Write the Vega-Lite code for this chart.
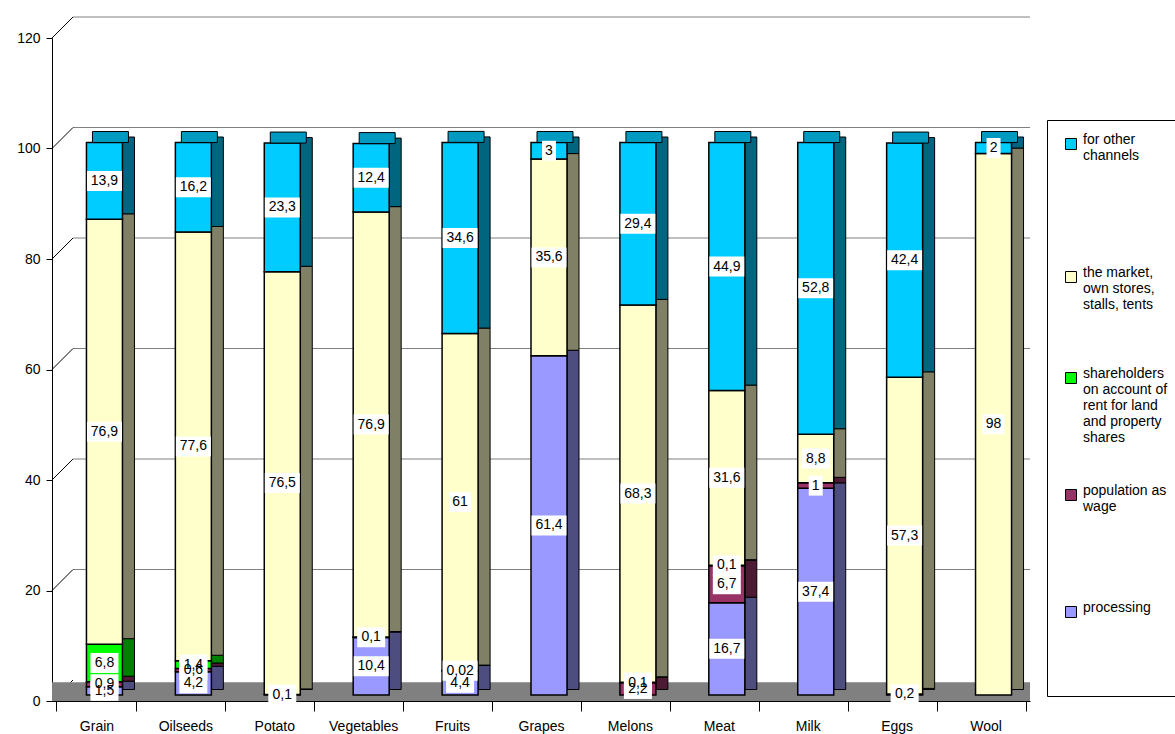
{
  "$schema": "https://vega.github.io/schema/vega-lite/v6.json",
  "width": 978,
  "height": 663,
  "autosize": "none",
  "padding": {"left": 52, "top": 38, "right": 145, "bottom": 33},
  "background": "white",
  "config": {
    "locale": {"number": {"decimal": ",", "thousands": " ", "grouping": [3], "currency": ["", ""]}},
    "font": "Liberation Sans",
    "view": {"stroke": null},
    "axis": {"labelFont": "Liberation Sans", "labelFontSize": 14, "labelColor": "black", "domainColor": "black", "tickColor": "black", "title": null}
  },
  "resolve": {"scale": {"color": "independent"}, "legend": {"color": "independent"}},
  "data": {"values": [
    {"c": "Grain", "s": "processing", "k": 1, "v": 1.5},
    {"c": "Grain", "s": "population as wage", "k": 2, "v": 0.9},
    {"c": "Grain", "s": "shareholders on account of rent for land and property shares", "k": 3, "v": 6.8},
    {"c": "Grain", "s": "the market, own stores, stalls, tents", "k": 4, "v": 76.9},
    {"c": "Grain", "s": "for other channels", "k": 5, "v": 13.9},
    {"c": "Oilseeds", "s": "processing", "k": 1, "v": 4.2},
    {"c": "Oilseeds", "s": "population as wage", "k": 2, "v": 0.6},
    {"c": "Oilseeds", "s": "shareholders on account of rent for land and property shares", "k": 3, "v": 1.4},
    {"c": "Oilseeds", "s": "the market, own stores, stalls, tents", "k": 4, "v": 77.6},
    {"c": "Oilseeds", "s": "for other channels", "k": 5, "v": 16.2},
    {"c": "Potato", "s": "processing", "k": 1, "v": 0.1},
    {"c": "Potato", "s": "the market, own stores, stalls, tents", "k": 4, "v": 76.5},
    {"c": "Potato", "s": "for other channels", "k": 5, "v": 23.3},
    {"c": "Vegetables", "s": "processing", "k": 1, "v": 10.4},
    {"c": "Vegetables", "s": "population as wage", "k": 2, "v": 0.1},
    {"c": "Vegetables", "s": "the market, own stores, stalls, tents", "k": 4, "v": 76.9},
    {"c": "Vegetables", "s": "for other channels", "k": 5, "v": 12.4},
    {"c": "Fruits", "s": "processing", "k": 1, "v": 4.4},
    {"c": "Fruits", "s": "population as wage", "k": 2, "v": 0.02},
    {"c": "Fruits", "s": "the market, own stores, stalls, tents", "k": 4, "v": 61},
    {"c": "Fruits", "s": "for other channels", "k": 5, "v": 34.6},
    {"c": "Grapes", "s": "processing", "k": 1, "v": 61.4},
    {"c": "Grapes", "s": "the market, own stores, stalls, tents", "k": 4, "v": 35.6},
    {"c": "Grapes", "s": "for other channels", "k": 5, "v": 3},
    {"c": "Melons", "s": "population as wage", "k": 2, "v": 2.2},
    {"c": "Melons", "s": "shareholders on account of rent for land and property shares", "k": 3, "v": 0.1},
    {"c": "Melons", "s": "the market, own stores, stalls, tents", "k": 4, "v": 68.3},
    {"c": "Melons", "s": "for other channels", "k": 5, "v": 29.4},
    {"c": "Meat", "s": "processing", "k": 1, "v": 16.7},
    {"c": "Meat", "s": "population as wage", "k": 2, "v": 6.7},
    {"c": "Meat", "s": "shareholders on account of rent for land and property shares", "k": 3, "v": 0.1},
    {"c": "Meat", "s": "the market, own stores, stalls, tents", "k": 4, "v": 31.6},
    {"c": "Meat", "s": "for other channels", "k": 5, "v": 44.9},
    {"c": "Milk", "s": "processing", "k": 1, "v": 37.4},
    {"c": "Milk", "s": "population as wage", "k": 2, "v": 1},
    {"c": "Milk", "s": "the market, own stores, stalls, tents", "k": 4, "v": 8.8},
    {"c": "Milk", "s": "for other channels", "k": 5, "v": 52.8},
    {"c": "Eggs", "s": "processing", "k": 1, "v": 0.2},
    {"c": "Eggs", "s": "the market, own stores, stalls, tents", "k": 4, "v": 57.3},
    {"c": "Eggs", "s": "for other channels", "k": 5, "v": 42.4},
    {"c": "Wool", "s": "the market, own stores, stalls, tents", "k": 4, "v": 98},
    {"c": "Wool", "s": "for other channels", "k": 5, "v": 2}
  ]},
  "transform": [
    {"stack": "v", "groupby": ["c"], "sort": [{"field": "k", "order": "ascending"}], "as": ["y0", "y1"]}
  ],
  "encoding": {
    "x": {"field": "c", "type": "nominal", "sort": ["Grain", "Oilseeds", "Potato", "Vegetables", "Fruits", "Grapes", "Melons", "Meat", "Milk", "Eggs", "Wool"],
      "axis": {"labelAngle": 0, "tickBand": "extent", "tickSize": 10, "labelPadding": 8, "labelBaseline": "top"}}
  },
  "layer": [
    {
      "data": {"values": [{"g": 20}, {"g": 40}, {"g": 60}, {"g": 80}, {"g": 100}, {"g": 120}]},
      "mark": {"type": "rule", "color": "#808080", "strokeWidth": 1, "xOffset": 21, "yOffset": -21, "y2Offset": -21},
      "encoding": {
        "x": {"value": 0},
        "x2": {"value": "width"},
        "y": {"field": "g", "type": "quantitative"},
        "y2": {"field": "g"}
      }
    },
    {
      "data": {"values": [{"g": 0}, {"g": 20}, {"g": 40}, {"g": 60}, {"g": 80}, {"g": 100}, {"g": 120}]},
      "mark": {"type": "rule", "color": "black", "strokeWidth": 1, "x2Offset": 21, "y2Offset": -21},
      "encoding": {
        "x": {"value": 0},
        "x2": {"value": 0},
        "y": {"field": "g", "type": "quantitative"},
        "y2": {"field": "g"}
      }
    },
    {
      "data": {"values": [{"floor": "floor"}]},
      "mark": {"type": "rect", "color": "#808080"},
      "encoding": {
        "x": {"value": 0},
        "x2": {"value": "width"},
        "y": {"datum": 0, "type": "quantitative"},
        "y2": {"datum": 3.4}
      }
    },
    {
      "mark": {"type": "bar", "stroke": "#000000", "strokeWidth": 1, "width": 12, "xOffset": 32, "yOffset": -11.5, "y2Offset": -11.5},
      "encoding": {
        "y": {"field": "y0", "type": "quantitative"},
        "y2": {"field": "y1"},
        "color": {"field": "s", "type": "nominal", "legend": null,
          "scale": {"domain": ["for other channels", "the market, own stores, stalls, tents", "shareholders on account of rent for land and property shares", "population as wage", "processing"],
                    "range": ["#006680", "#808066", "#008000", "#4D1A33", "#4D4D80"]}}
      }
    },
    {
      "mark": {"type": "bar", "stroke": "black", "strokeWidth": 1.5, "width": 36, "xOffset": 8, "yOffset": -6, "y2Offset": -6},
      "encoding": {
        "y": {"field": "y0", "type": "quantitative", "scale": {"domain": [0, 120]},
          "axis": {"values": [0, 20, 40, 60, 80, 100, 120], "grid": false, "tickSize": 6, "labelPadding": 6}},
        "y2": {"field": "y1"},
        "color": {"field": "s", "type": "nominal",
          "scale": {"domain": ["for other channels", "the market, own stores, stalls, tents", "shareholders on account of rent for land and property shares", "population as wage", "processing"],
                    "range": ["#00CCFF", "#FFFFCC", "#00FF00", "#993366", "#9999FF"]},
          "legend": {"title": null, "orient": "none", "legendX": 995, "legendY": 82,
            "strokeColor": "black", "fillColor": "white", "padding": 17, "rowPadding": 23,
            "symbolType": "square", "symbolSize": 121, "symbolStrokeColor": "black", "symbolStrokeWidth": 1,
            "labelFont": "Liberation Sans", "labelFontSize": 14, "labelColor": "black", "labelLimit": 200, "labelBaseline": "alphabetic", "labelOffset": 5,
            "labelExpr": "datum.label == 'for other channels' ? ['for other', 'channels', '', '', '', '', ''] : datum.label == 'the market, own stores, stalls, tents' ? ['the market,', 'own stores,', 'stalls, tents', '', ''] : datum.label == 'shareholders on account of rent for land and property shares' ? ['shareholders', 'on account of', 'rent for land', 'and property', 'shares', ''] : datum.label == 'population as wage' ? ['population as', 'wage', '', '', '', ''] : ['processing', '', '', '', '']"}
        }
      }
    },
    {
      "transform": [{"filter": "datum.k == 5"}],
      "mark": {"type": "bar", "stroke": "black", "strokeWidth": 1, "width": 36, "xOffset": 14, "yOffset": -17, "y2Offset": -6, "color": "#0099C0"},
      "encoding": {
        "y": {"field": "y1", "type": "quantitative"},
        "y2": {"field": "y1"}
      }
    },
    {
      "transform": [{"filter": "(datum.v >= 10 && datum.v != round(datum.v)) || datum.v < 0.1"}, {"fold": ["y0", "y1"], "as": ["end", "yy"]}],
      "mark": {"type": "point", "filled": true, "color": "white", "opacity": 1, "size": 400, "shape": "M-1.75,-1H1.75V1H-1.75Z", "xOffset": 8, "yOffset": -6},
      "encoding": {
        "y": {"field": "yy", "aggregate": "mean", "type": "quantitative"},
        "detail": {"field": "s"}
      }
    },
    {
      "transform": [{"filter": "datum.v < 10 && datum.v >= 0.1 && datum.v != round(datum.v)"}, {"fold": ["y0", "y1"], "as": ["end", "yy"]}],
      "mark": {"type": "point", "filled": true, "color": "white", "opacity": 1, "size": 400, "shape": "M-1.4,-1H1.4V1H-1.4Z", "xOffset": 8, "yOffset": -6},
      "encoding": {
        "y": {"field": "yy", "aggregate": "mean", "type": "quantitative"},
        "detail": {"field": "s"}
      }
    },
    {
      "transform": [{"filter": "datum.v >= 10 && datum.v == round(datum.v)"}, {"fold": ["y0", "y1"], "as": ["end", "yy"]}],
      "mark": {"type": "point", "filled": true, "color": "white", "opacity": 1, "size": 400, "shape": "M-1.1,-1H1.1V1H-1.1Z", "xOffset": 8, "yOffset": -6},
      "encoding": {
        "y": {"field": "yy", "aggregate": "mean", "type": "quantitative"},
        "detail": {"field": "s"}
      }
    },
    {
      "transform": [{"filter": "datum.v < 10 && datum.v == round(datum.v)"}, {"fold": ["y0", "y1"], "as": ["end", "yy"]}],
      "mark": {"type": "point", "filled": true, "color": "white", "opacity": 1, "size": 400, "shape": "M-0.7,-1H0.7V1H-0.7Z", "xOffset": 8, "yOffset": -6},
      "encoding": {
        "y": {"field": "yy", "aggregate": "mean", "type": "quantitative"},
        "detail": {"field": "s"}
      }
    },
    {
      "transform": [{"fold": ["y0", "y1"], "as": ["end", "yy"]}],
      "mark": {"type": "text", "font": "Liberation Sans", "fontSize": 14, "color": "black", "baseline": "middle", "xOffset": 8, "yOffset": -6},
      "encoding": {
        "y": {"field": "yy", "aggregate": "mean", "type": "quantitative"},
        "detail": {"field": "s"},
        "text": {"field": "v", "type": "quantitative", "format": "~g"}
      }
    }
  ]
}
